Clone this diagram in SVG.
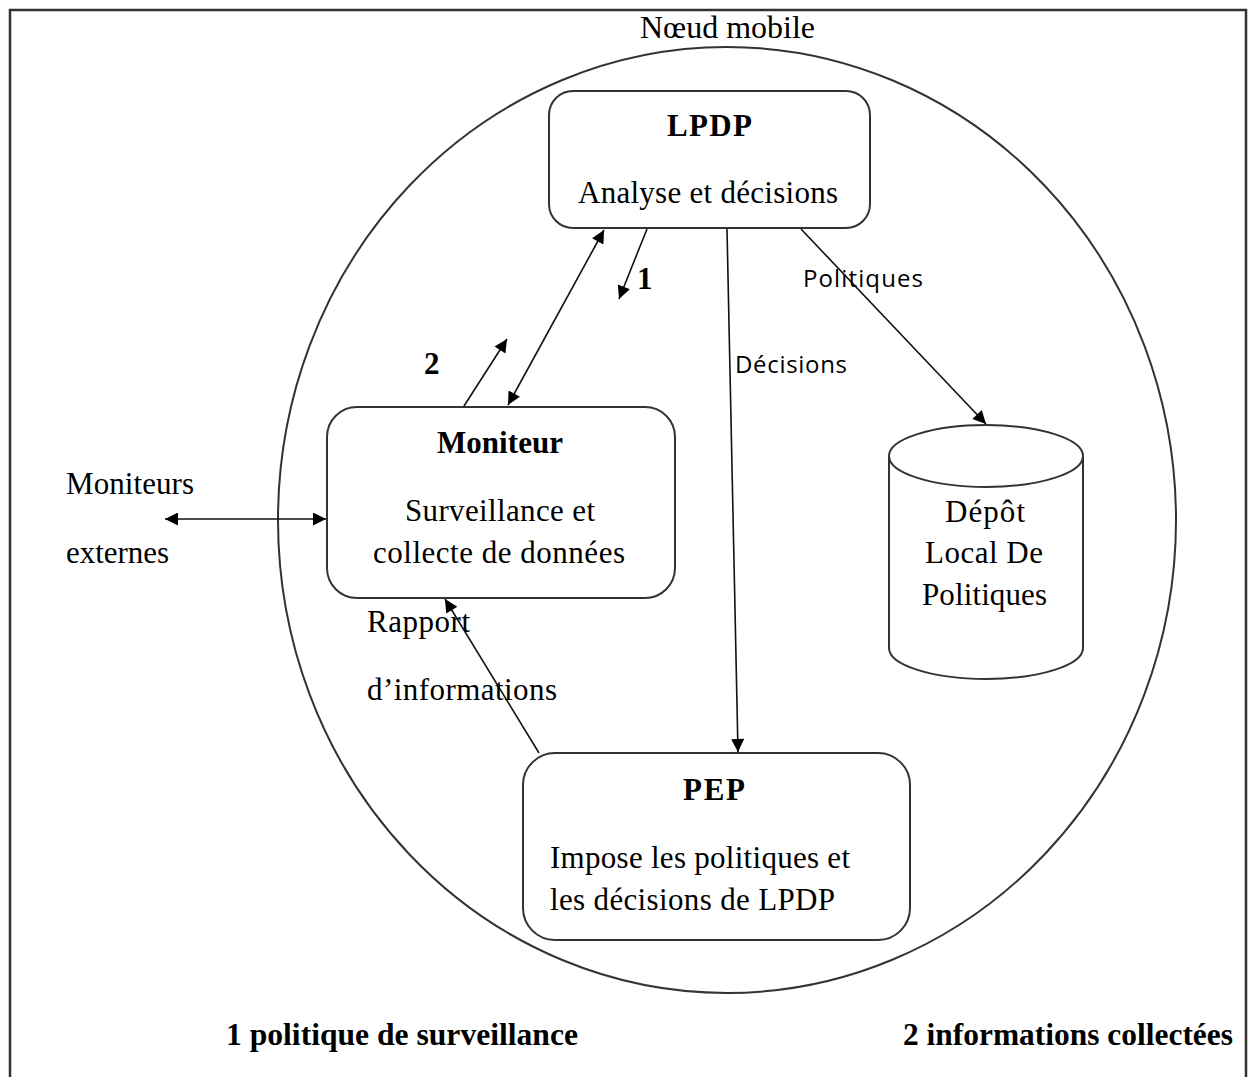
<svg xmlns="http://www.w3.org/2000/svg" width="1249" height="1077" viewBox="0 0 1249 1077">
  <style>
    .frame { fill: none; stroke: #333; stroke-width: 2.5; }
    .shell { fill: none; stroke: #333; stroke-width: 2; }
    .box { fill: #fff; stroke: #333; stroke-width: 2; }
    .serif { font-family: "Liberation Serif", "Times New Roman", serif; font-size: 31px; fill: #000; }
    .bold { font-weight: bold; }
    .sans { font-family: "Open Sans", "Noto Sans", "Liberation Sans", sans-serif; font-size: 24px; fill: #000; }
    .link { fill: none; stroke: #111; stroke-width: 1.6; }
  </style>
  <defs>
    <marker id="arrow" viewBox="0 0 10 10" refX="10" refY="5" markerWidth="16" markerHeight="13" markerUnits="userSpaceOnUse" orient="auto-start-reverse">
      <path d="M0,0 L10,5 L0,10 z" fill="#000"/>
    </marker>
  </defs>

  <rect width="1249" height="1077" fill="#fff"/>

  <!-- outer frame, open at the bottom -->
  <path class="frame" d="M10,1077 L10,10 L1246,10 L1246,1077"/>

  <!-- mobile node boundary -->
  <g id="mobile-node">
    <ellipse class="shell" cx="727" cy="520" rx="449" ry="473"/>
    <text class="serif" x="640" y="38" textLength="175" lengthAdjust="spacingAndGlyphs">Nœud mobile</text>
  </g>

  <!-- connectors -->
  <g id="connectors">
    <!-- LPDP <-> Moniteur -->
    <line class="link" x1="508" y1="405" x2="604" y2="230" marker-start="url(#arrow)" marker-end="url(#arrow)"/>
    <!-- 1: surveillance policy -->
    <line class="link" x1="647" y1="229" x2="619" y2="299" marker-end="url(#arrow)"/>
    <!-- 2: collected information -->
    <line class="link" x1="464" y1="406" x2="507" y2="339" marker-end="url(#arrow)"/>
    <!-- Décisions: LPDP -> PEP -->
    <line class="link" x1="727" y1="229" x2="738" y2="752" marker-end="url(#arrow)"/>
    <!-- Politiques: LPDP -> repository -->
    <line class="link" x1="801" y1="229" x2="986" y2="424" marker-end="url(#arrow)"/>
    <!-- external monitors <-> Moniteur -->
    <line class="link" x1="165" y1="519" x2="326" y2="519" marker-start="url(#arrow)" marker-end="url(#arrow)"/>
    <!-- report: PEP -> Moniteur -->
    <line class="link" x1="539" y1="753" x2="445" y2="599" marker-end="url(#arrow)"/>

    <text class="serif bold" x="637" y="289" font-size="24">1</text>
    <text class="serif bold" x="424" y="374" font-size="24">2</text>
    <text class="sans" x="803" y="287" textLength="120" lengthAdjust="spacing">Politiques</text>
    <text class="sans" x="735" y="373" textLength="112" lengthAdjust="spacing">Décisions</text>
    <text class="serif" x="66" y="494" textLength="128" lengthAdjust="spacing">Moniteurs</text>
    <text class="serif" x="66" y="563" textLength="103" lengthAdjust="spacing">externes</text>
    <text class="serif" x="367" y="632" textLength="103" lengthAdjust="spacing">Rapport</text>
    <text class="serif" x="367" y="700" textLength="190" lengthAdjust="spacing">d’informations</text>
  </g>

  <!-- LPDP -->
  <g id="lpdp">
    <rect class="box" x="549" y="91" width="321" height="137" rx="24"/>
    <text class="serif bold" x="667" y="136" textLength="85" lengthAdjust="spacing">LPDP</text>
    <text class="serif" x="578" y="203" textLength="260" lengthAdjust="spacing">Analyse et décisions</text>
  </g>

  <!-- Moniteur -->
  <g id="moniteur">
    <rect class="box" x="327" y="407" width="348" height="191" rx="30"/>
    <text class="serif bold" x="437" y="453" textLength="126" lengthAdjust="spacing">Moniteur</text>
    <text class="serif" x="405" y="521" textLength="190" lengthAdjust="spacing">Surveillance et</text>
    <text class="serif" x="373" y="563" textLength="252" lengthAdjust="spacing">collecte de données</text>
  </g>

  <!-- PEP -->
  <g id="pep">
    <rect class="box" x="523" y="753" width="387" height="187" rx="32"/>
    <text class="serif bold" x="683" y="800" textLength="62" lengthAdjust="spacing">PEP</text>
    <text class="serif" x="550" y="868" textLength="300" lengthAdjust="spacing">Impose les politiques et</text>
    <text class="serif" x="550" y="910" textLength="285" lengthAdjust="spacing">les décisions de LPDP</text>
  </g>

  <!-- local policy repository -->
  <g id="depot">
    <path class="box" d="M889,456 L889,648 A97,31 0 0 0 1083,648 L1083,456 A97,31 0 0 0 889,456 Z"/>
    <path class="box" d="M889,456 A97,31 0 0 0 1083,456" fill="none"/>
    <text class="serif" x="945" y="522" textLength="80" lengthAdjust="spacing">Dépôt</text>
    <text class="serif" x="925" y="563" textLength="118" lengthAdjust="spacing">Local De</text>
    <text class="serif" x="922" y="605" textLength="125" lengthAdjust="spacing">Politiques</text>
  </g>

  <!-- legend -->
  <g id="legend">
    <text class="serif bold" x="226" y="1045" font-size="29" textLength="352" lengthAdjust="spacingAndGlyphs">1 politique de surveillance</text>
    <text class="serif bold" x="903" y="1045" font-size="29" textLength="330" lengthAdjust="spacingAndGlyphs">2 informations collectées</text>
  </g>
</svg>
